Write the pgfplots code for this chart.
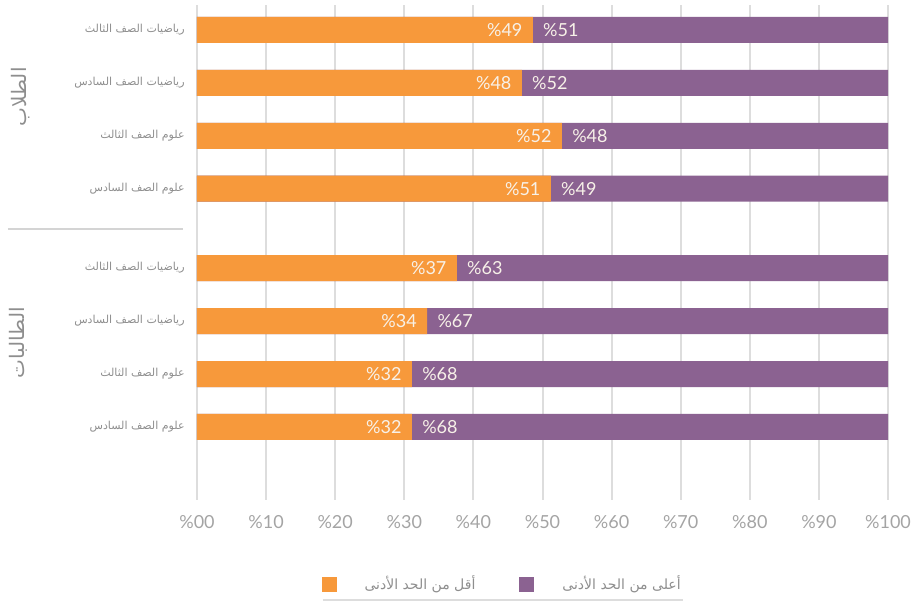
\documentclass[border=0pt]{standalone}
\usepackage{pgfplots}
\pgfplotsset{compat=1.18}
\usepackage{fontspec}
\setmainfont{Lato}
\newfontfamily\arabicfont[Script=Arabic]{DejaVu Sans}
\TeXXeTstate=1
\definecolor{cOr}{HTML}{F7993B}
\definecolor{cPu}{HTML}{8B6291}
\definecolor{cLab}{HTML}{F7F1E8}
\definecolor{cTick}{HTML}{A4A4A4}
\definecolor{cTxt}{HTML}{8E8E8E}
\definecolor{cGrid}{HTML}{DDDDDD}
\begin{document}
\begin{tikzpicture}
\useasboundingbox (-98.5pt,-51pt) rectangle (361pt,250pt);
\begin{axis}[
  width=345.5pt, height=247.5pt, scale only axis,
  xmin=0, xmax=100, ymin=-0.47, ymax=8.88,
  y dir=reverse,
  clip=false,
  axis line style={draw=none},
  tick style={draw=none},
  major tick length=0pt,
  xmajorgrids,
  grid style={cGrid, line width=1pt},
  xtick={0,10,20,30,40,50,60,70,80,90,100},
  xticklabels={\%00,\%10,\%20,\%30,\%40,\%50,\%60,\%70,\%80,\%90,\%100},
  xticklabel style={font=\fontsize{9}{10}\selectfont, text=cTick, anchor=base, inner sep=0pt, yshift=-14.25pt},
  ytick={0,1,2,3,4.5,5.5,6.5,7.5},
  yticklabels={
    {\beginR رياضيات الصف الثالث\endR},
    {\beginR رياضيات الصف السادس\endR},
    {\beginR علوم الصف الثالث\endR},
    {\beginR علوم الصف السادس\endR},
    {\beginR رياضيات الصف الثالث\endR},
    {\beginR رياضيات الصف السادس\endR},
    {\beginR علوم الصف الثالث\endR},
    {\beginR علوم الصف السادس\endR}},
  yticklabel style={font=\arabicfont\fontsize{5.5}{7}\selectfont, text=cTxt, inner sep=0pt, anchor=east, xshift=-6pt},
  legend columns=2,
  legend style={at={(0.443,-0.17)}, anchor=center, draw=none, fill=none,
    font=\arabicfont\fontsize{7}{9}\selectfont, text=cTxt,
    /tikz/every odd column/.append style={column sep=12pt},
    /tikz/every even column/.append style={column sep=20pt}},
  legend image code/.code={\fill[#1, draw=none] (0pt,-3.75pt) rectangle (7.5pt,3.75pt);},
]
\addlegendimage{fill=cOr}
\addlegendentry{\beginR أقل من الحد الأدنى\endR}
\addlegendimage{fill=cPu}
\addlegendentry{\beginR أعلى من الحد الأدنى\endR}

\addplot[forget plot, xbar, bar width=13pt, bar shift=0pt, fill=cPu, draw=none]
  coordinates {(100,0) (100,1) (100,2) (100,3) (100,4.5) (100,5.5) (100,6.5) (100,7.5)};
\addplot[forget plot, xbar, bar width=13pt, bar shift=0pt, fill=cOr, draw=none]
  coordinates {(48.6,0) (47.0,1) (52.8,2) (51.2,3) (37.6,4.5) (33.3,5.5) (31.1,6.5) (31.1,7.5)};

\addplot[forget plot, draw=none, mark=none, point meta=explicit symbolic,
  nodes near coords, nodes near coords align={anchor=east},
  nodes near coords style={anchor=east, xshift=-5pt, inner sep=0pt, text=cLab, font=\fontsize{9}{10}\selectfont}]
  coordinates {(48.6,0) [\%49] (47.0,1) [\%48] (52.8,2) [\%52] (51.2,3) [\%51]
               (37.6,4.5) [\%37] (33.3,5.5) [\%34] (31.1,6.5) [\%32] (31.1,7.5) [\%32]};
\addplot[forget plot, draw=none, mark=none, point meta=explicit symbolic,
  nodes near coords, nodes near coords align={anchor=west},
  nodes near coords style={anchor=west, xshift=5pt, inner sep=0pt, text=cLab, font=\fontsize{9}{10}\selectfont}]
  coordinates {(48.6,0) [\%51] (47.0,1) [\%52] (52.8,2) [\%48] (51.2,3) [\%49]
               (37.6,4.5) [\%63] (33.3,5.5) [\%67] (31.1,6.5) [\%68] (31.1,7.5) [\%68]};

\node[rotate=90, font=\arabicfont\fontsize{10}{12}\selectfont, text=cTxt]
  at ([xshift=-88pt]axis cs:0,1.264) {\beginR الطلاب\endR};
\node[rotate=90, font=\arabicfont\fontsize{10}{12}\selectfont, text=cTxt]
  at ([xshift=-89.5pt]axis cs:0,5.906) {\beginR الطالبات\endR};
\draw[cGrid!90!gray, line width=1pt] ([xshift=-94.5pt]axis cs:0,3.755) -- ([xshift=-7pt]axis cs:0,3.755);
\draw[cGrid, line width=1pt] (axis description cs:0.182,-0.202) -- (axis description cs:0.703,-0.202);
\end{axis}
\end{tikzpicture}
\end{document}
